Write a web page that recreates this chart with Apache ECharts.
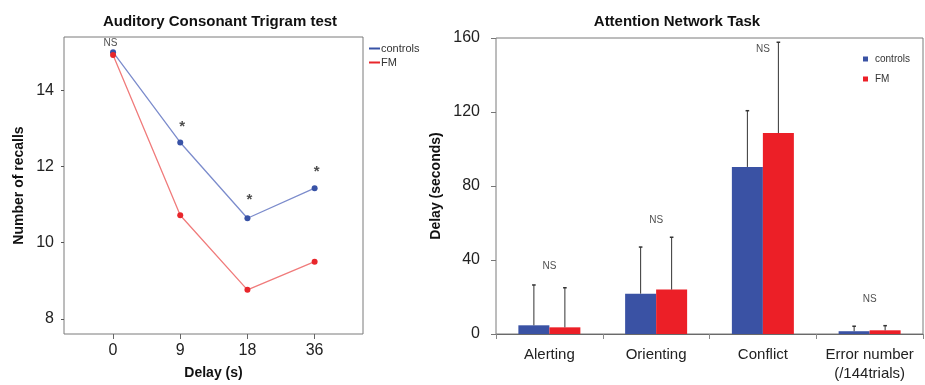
<!DOCTYPE html>
<html><head><meta charset="utf-8">
<script src="https://cdn.jsdelivr.net/npm/echarts@6/dist/echarts.min.js"></script>
<style>html,body{margin:0;padding:0;background:#fff}#c{width:925px;height:385px}</style>
</head><body><div id="c"></div>
<script>
// Left chart: Auditory Consonant Trigram test
const delayLabels = ['0', '9', '18', '36'];
const recallControls = [15.0, 12.63, 10.64, 11.43];
const recallFM = [14.93, 10.72, 8.76, 9.50];
const recallTicks = [8, 10, 12, 14];
const recallMarks = ['NS', '*', '*', '*'];
const recallMarkLevels = [15.24, 13.1, 11.18, 11.92];

// Right chart: Attention Network Task
const antCategories = ['Alerting', 'Orienting', 'Conflict', 'Error number\n(/144trials)'];
const antControls = [4.7, 21.8, 90.3, 1.5];
const antFM = [3.6, 24.0, 108.6, 2.0];
const antControlsUpper = [26.5, 47.0, 120.7, 4.2];
const antFMUpper = [25.0, 52.3, 157.7, 4.5];
const antMarks = ['NS', 'NS', 'NS', 'NS'];
const antMarkLevels = [36.8, 61.6, 154, 18.9];

const FONT = 'Liberation Sans, Arial, sans-serif';
const BLUE = '#3852a6', BLUE_LINE = '#7c8ccc';
const RED = '#e8262b', RED_LINE = '#f07b7b';
const BAR_BLUE = '#3a52a4', BAR_RED = '#ec1f27';

const chart = echarts.init(document.getElementById('c'), null, {renderer: 'canvas'});

function errRender(values, uppers, offset) {
  return function (params, api) {
    const i = api.value(0);
    const p0 = api.coord([i, values[i]]);
    const p1 = api.coord([i, uppers[i]]);
    const x = p0[0] + offset;
    return {
      type: 'group',
      children: [
        {type: 'line', shape: {x1: x, y1: p0[1], x2: x, y2: p1[1]}, style: {stroke: '#333', lineWidth: 1}},
        {type: 'line', shape: {x1: x - 1.8, y1: p1[1], x2: x + 1.8, y2: p1[1]}, style: {stroke: '#333', lineWidth: 1.5}}
      ]
    };
  };
}

const option = {
  animation: false,
  backgroundColor: '#fff',
  textStyle: {fontFamily: FONT},
  title: [
    {text: 'Auditory Consonant Trigram test', left: 215, top: 9, textAlign: 'center',
     textStyle: {fontFamily: FONT, fontSize: 15, fontWeight: 'bold', color: '#111'}},
    {text: 'Attention Network Task', left: 672, top: 9, textAlign: 'center',
     textStyle: {fontFamily: FONT, fontSize: 15, fontWeight: 'bold', color: '#111'}}
  ],
  legend: [
    {left: 364, top: 38, orient: 'vertical', itemGap: 3, itemWidth: 11, itemHeight: 2,
     icon: 'rect', textStyle: {fontFamily: FONT, fontSize: 11, color: '#333', padding: [0, 0, 0, -4]},
     data: [{name: 'controls', itemStyle: {color: BLUE}}, {name: 'FM', itemStyle: {color: RED}}]},
    {left: 858, top: 49, orient: 'vertical', itemGap: 10, itemWidth: 5, itemHeight: 5,
     icon: 'rect', textStyle: {fontFamily: FONT, fontSize: 10, color: '#333', padding: [-3, 0, 0, 2]},
     data: [{name: 'controls', itemStyle: {color: BAR_BLUE}}, {name: 'FM', itemStyle: {color: BAR_RED}}]}
  ],
  grid: [
    {left: 64, top: 37, width: 299, height: 300, show: true, borderColor: '#7a7a7a', borderWidth: 1},
    {left: 496, top: 38, width: 427, height: 296, show: true, borderColor: '#7a7a7a', borderWidth: 1}
  ],
  xAxis: [
    {gridIndex: 0, type: 'value', min: -0.73, max: 3.72,
     name: 'Delay (s)', nameLocation: 'middle', nameGap: 32,
     nameTextStyle: {fontFamily: FONT, fontSize: 14, fontWeight: 'bold', color: '#111'},
     axisLine: {show: false, onZero: false}, splitLine: {show: false},
     axisTick: {show: true, customValues: [0, 1, 2, 3], length: 5, lineStyle: {color: '#666'}},
     axisLabel: {customValues: [0, 1, 2, 3], formatter: v => delayLabels[Math.round(v)],
       fontFamily: FONT, fontSize: 16, color: '#222', margin: 9}},
    {gridIndex: 1, type: 'category', data: antCategories,
     axisLine: {show: true, lineStyle: {color: '#6a6a6a'}},
     axisTick: {show: true, length: 5, lineStyle: {color: '#888'}},
     axisLabel: {interval: 0, fontFamily: FONT, fontSize: 15, color: '#222', margin: 11, lineHeight: 19},
     splitLine: {show: false}}
  ],
  yAxis: [
    {gridIndex: 0, type: 'value', min: 7.6, max: 15.4,
     name: 'Number of recalls', nameLocation: 'middle', nameGap: 38,
     nameTextStyle: {fontFamily: FONT, fontSize: 14, fontWeight: 'bold', color: '#111'},
     axisLine: {show: false, onZero: false}, splitLine: {show: false},
     axisTick: {show: true, customValues: recallTicks, length: 3, lineStyle: {color: '#555'}},
     axisLabel: {customValues: recallTicks, fontFamily: FONT, fontSize: 16, color: '#222', margin: 10}},
    {gridIndex: 1, type: 'value', min: 0, max: 160, interval: 40,
     name: 'Delay (seconds)', nameLocation: 'middle', nameGap: 53,
     nameTextStyle: {fontFamily: FONT, fontSize: 14, fontWeight: 'bold', color: '#111'},
     axisLine: {show: false, onZero: false}, splitLine: {show: false},
     axisTick: {show: true, length: 5, lineStyle: {color: '#777'}},
     axisLabel: {fontFamily: FONT, fontSize: 16, color: '#222', margin: 16}}
  ],
  series: [
    {name: 'controls', type: 'line', xAxisIndex: 0, yAxisIndex: 0,
     data: recallControls.map((v, i) => [i, v]), symbol: 'circle', symbolSize: 6,
     lineStyle: {color: BLUE_LINE, width: 1.3}, itemStyle: {color: BLUE}, z: 3},
    {name: 'FM', type: 'line', xAxisIndex: 0, yAxisIndex: 0,
     data: recallFM.map((v, i) => [i, v]), symbol: 'circle', symbolSize: 6,
     lineStyle: {color: RED_LINE, width: 1.3}, itemStyle: {color: RED}, z: 3},
    {type: 'scatter', xAxisIndex: 0, yAxisIndex: 0, symbolSize: 0, silent: true,
     data: recallMarkLevels.map((v, i) => ({value: [i + (i === 0 ? -0.04 : 0.03), v + (i === 0 ? 0 : -0.05)],
       label: {show: true, position: 'inside', formatter: recallMarks[i],
         fontFamily: FONT, fontSize: i === 0 ? 10 : 15, fontWeight: i === 0 ? 'normal' : 'bold', color: '#222'}}))},
    {name: 'controls', type: 'bar', xAxisIndex: 1, yAxisIndex: 1, data: antControls,
     barWidth: 31, barGap: '0%', itemStyle: {color: BAR_BLUE}},
    {name: 'FM', type: 'bar', xAxisIndex: 1, yAxisIndex: 1, data: antFM,
     barWidth: 31, barGap: '0%', itemStyle: {color: BAR_RED}},
    {type: 'custom', xAxisIndex: 1, yAxisIndex: 1, silent: true, z: 5,
     data: antControls.map((v, i) => [i, v]), renderItem: errRender(antControls, antControlsUpper, -15.5)},
    {type: 'custom', xAxisIndex: 1, yAxisIndex: 1, silent: true, z: 5,
     data: antFM.map((v, i) => [i, v]), renderItem: errRender(antFM, antFMUpper, 15.5)},
    {type: 'scatter', xAxisIndex: 1, yAxisIndex: 1, symbolSize: 0, silent: true,
     data: antMarkLevels.map((v, i) => ({value: [i, v],
       label: {show: true, position: 'inside', formatter: antMarks[i],
         fontFamily: FONT, fontSize: 10, color: '#222'}}))}
  ]
};
chart.setOption(option);
</script></body></html>
